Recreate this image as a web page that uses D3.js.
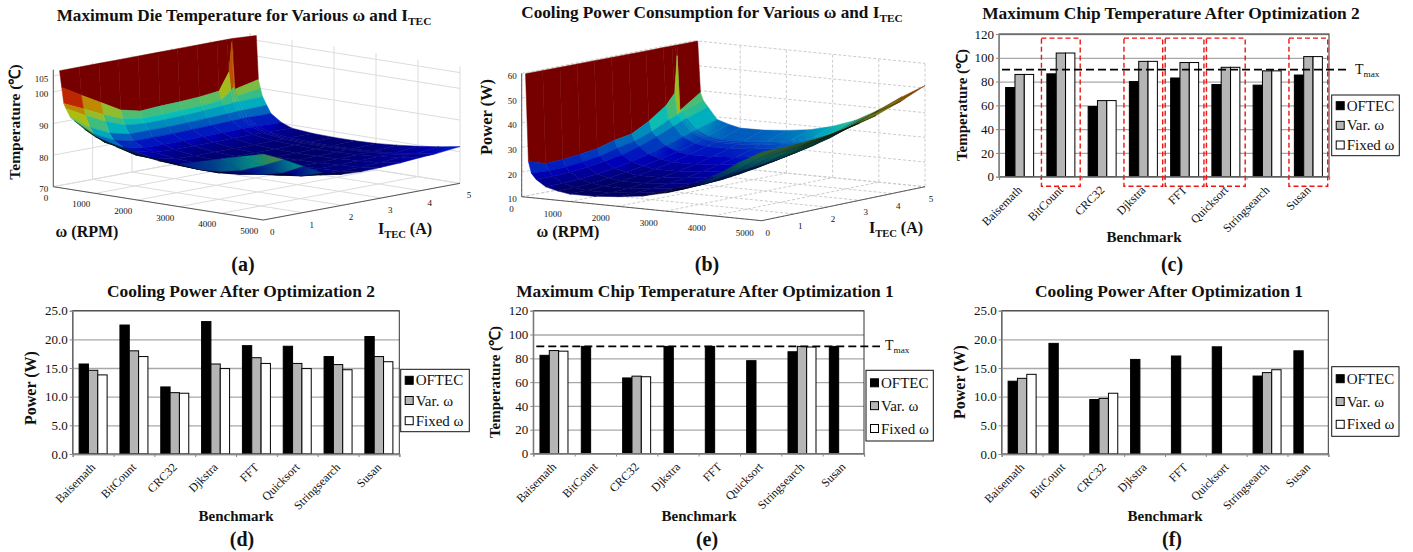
<!DOCTYPE html>
<html>
<head>
<meta charset="utf-8">
<script src="https://cdn.jsdelivr.net/npm/d3@7"></script>
<style>
  html, body { margin: 0; background: #fff; }
  svg { display: block; }
  text { font-family: "Liberation Serif", "Times New Roman", serif; fill: #111; }
</style>
</head>
<body>
<svg id="fig" width="1413" height="552"></svg>
<script>
const benchmarks = ["Baisemath", "BitCount", "CRC32", "Djkstra", "FFT", "Quicksort", "Stringsearch", "Susan"];
const seriesNames = ["OFTEC", "Var. ω", "Fixed ω"];
const seriesFills = ["#000000", "#b5b5b5", "#ffffff"];

const tempOpt2 = [
  [75, 86.5, 59, 80, 83, 77.5, 77, 85.5],
  [86, 104, 64, 97, 96, 92, 89, 101],
  [86, 104, 64, 97, 96, 92, 89, 101],
];
const powerOpt2 = [
  [15.7, 22.5, 11.7, 23.1, 18.9, 18.8, 17, 20.5],
  [14.6, 18, 10.7, 15.7, 16.8, 15.8, 15.6, 17],
  [13.8, 17, 10.6, 14.9, 15.8, 14.9, 14.7, 16.1],
];
const tempOpt1 = [
  [82.5, 90, 63.5, 90, 90, 78, 85.5, 90],
  [86.5, null, 65, null, null, null, 90, null],
  [86, null, 64.5, null, null, null, 89.5, null],
];
const powerOpt1 = [
  [12.7, 19.3, 9.5, 16.5, 17.1, 18.7, 13.6, 18],
  [13.2, null, 9.7, null, null, null, 14.2, null],
  [13.9, null, 10.6, null, null, null, 14.7, null],
];
const flaggedBenchmarks = ["BitCount", "Djkstra", "FFT", "Quicksort", "Susan"];
const T_MAX = 90;
const tempTicks = [0, 20, 40, 60, 80, 100, 120];
const powerTicks = [0, 5, 10, 15, 20, 25];

// surface samples
const currentSteps = [0, 0.5, 1, 1.5, 2, 2.5, 3, 3.5, 4, 4.25, 4.32, 4.4, 5];
const tempOmega = [150, 200, 250, 300, 400, 500, 750, 1000, 1500, 2000, 2500, 3000, 3500, 4000, 4500, 5000];
const tempSurface = [
  [107, 107, 107, 107, 107, 107, 107, 107, 107, 107, 107, 107, 106.5],
  [101.8, 98.2, 94.7, 91.2, 89.7, 90.1, 90.3, 90.7, 91.4, 96.8, 106, 91, 92.7],
  [96.8, 94, 91, 88.5, 87.5, 87.5, 87.8, 88, 88.6, 91, 92, 89, 90],
  [95.4, 92, 89, 86.6, 86, 86, 86.2, 86.5, 87, 87.3, 87.3, 87.3, 87.5],
  [92.9, 88.5, 85.5, 84, 84, 84, 84.2, 84.4, 84.6, 84.8, 84.8, 84.8, 85],
  [91.9, 86.5, 83.5, 82, 82, 82, 82.2, 82.4, 82.6, 82.7, 82.7, 82.7, 82.6],
  [89.7, 84.5, 81.5, 80.5, 80.3, 80.3, 80.4, 80.5, 80.6, 80.6, 80.6, 80.6, 80.3],
  [87.9, 84, 81, 79.5, 79.2, 79.2, 79.2, 79.3, 79.3, 79.3, 79.3, 79.3, 79],
  [85.8, 82, 79.6, 78.6, 78.3, 78.3, 78.3, 78.3, 78.4, 78.4, 78.4, 78.4, 78.4],
  [84.4, 81.8, 79, 78.2, 78, 78, 78, 78, 78.1, 78.1, 78.1, 78.1, 78.2],
  [83.5, 81, 78.5, 77.8, 77.8, 77.8, 77.8, 77.8, 77.9, 78, 78, 78, 78.2],
  [83.5, 80.6, 78.4, 77.8, 77.8, 77.8, 77.8, 77.9, 78, 78.1, 78.1, 78.1, 78.4],
  [85.3, 81, 79, 78, 78, 78, 78, 78.1, 78.2, 78.4, 78.4, 78.4, 78.9],
  [87.2, 82.5, 80, 78.6, 78.3, 78.4, 78.4, 78.5, 78.7, 78.9, 78.9, 78.9, 79.6],
  [89, 85, 81.5, 79.4, 78.6, 78.6, 78.7, 79, 79.4, 79.6, 79.6, 79.7, 80.5],
  [90.8, 88, 84.7, 81.5, 79.8, 79.5, 79.7, 80, 80.5, 80.7, 80.7, 80.8, 81.6],
];
const powerOmega = [80, 140, 200, 300, 500, 750, 1000, 1500, 2000, 2500, 3000, 3500, 4000, 4500, 5000];
const powerSurface = [
  [60, 60, 60, 60, 60, 60, 60, 60, 60, 60, 60, 60, 60],
  [24.5, 22.4, 22.7, 23.5, 24.5, 26.5, 27.8, 31.6, 36.6, 41, 56, 33.5, 39.3],
  [19.9, 19.6, 19.8, 20.6, 21.6, 23.5, 25, 27.5, 31, 32.3, 33, 33.4, 36.2],
  [17.6, 17.5, 17.8, 18.6, 19.6, 21, 23, 25.6, 28.5, 30, 30.4, 30.8, 33.8],
  [15, 15.1, 15.5, 16.2, 17.2, 18.6, 20.3, 22.3, 24.6, 25.8, 26.2, 26.6, 29],
  [13.8, 13.9, 14.2, 15, 16, 17.2, 18.7, 20.4, 22.5, 23.6, 23.9, 24.3, 27.5],
  [13, 13.1, 13.5, 14.2, 15.2, 16.4, 17.9, 19.6, 21.6, 22.7, 23, 23.4, 26.4],
  [13.1, 13.2, 13.6, 14.3, 15.3, 16.5, 18, 19.7, 21.7, 22.8, 23.1, 23.5, 26.5],
  [13.9, 14, 14.4, 15.1, 16.1, 17.3, 18.8, 20.5, 22.5, 23.6, 23.9, 24.3, 27.3],
  [15.1, 15.2, 15.6, 16.3, 17.3, 18.5, 20, 21.7, 23.7, 24.8, 25.1, 25.5, 28.5],
  [17.4, 17.5, 17.8, 18.6, 19.6, 20.8, 22.3, 24, 26, 27.1, 27.4, 27.8, 30.8],
  [20.8, 20.8, 21.2, 22, 23, 24.2, 25.6, 27.4, 29.4, 30.4, 30.7, 31.1, 34.2],
  [26, 26, 26.4, 27, 27.8, 28.9, 30.3, 32, 34.3, 35.2, 35.5, 36, 39.3],
  [32.3, 32.3, 32.6, 33, 33.8, 35, 36.3, 38, 40.5, 41.5, 41.8, 42.2, 45.5],
  [37.8, 37.8, 38, 38.4, 39, 40, 41.3, 43, 45.5, 46.6, 47, 47.5, 51],
];
const omegaTicks = [0, 1000, 2000, 3000, 4000, 5000];
const currentTicks = [0, 1, 2, 3, 4, 5];

const svg = d3.select("#fig");
const defs = svg.append("defs");

const jet = d3.scaleLinear()
  .domain([0, 0.125, 0.375, 0.625, 0.875, 1])
  .range(["#000080", "#0000ff", "#00ffff", "#ffff00", "#ff0000", "#800000"])
  .clamp(true);

// label with an optional subscript, parts = [[text, isSub], ...]
function addLabel(parent, parts, x, y, size, bold, anchor, rotate) {
  const t = parent.append("text")
    .attr("text-anchor", anchor || "middle")
    .attr("font-size", size)
    .attr("font-weight", bold ? "bold" : "normal")
    .attr("transform", `translate(${x},${y})` + (rotate ? ` rotate(${rotate})` : ""));
  let wasSub = false;
  parts.forEach(([str, isSub]) => {
    const span = t.append("tspan").text(str);
    if (isSub) span.attr("font-size", size * 0.66).attr("dy", size * 0.22);
    else if (wasSub) span.attr("dy", -size * 0.22);
    wasSub = isSub;
  });
  return t;
}

function drawSurface(cfg) {
  const g = svg.append("g");
  const wScale = d3.scaleLinear([0, 5000], [0, 1]);
  const iScale = d3.scaleLinear([0, 5], [0, 1]);
  const hScale = d3.scaleLinear(cfg.zDomain, [0, cfg.height]);
  const lerp = (a, b, t) => a + (b - a) * t;

  function project(omega, current, z) {
    const w = wScale(omega);
    const i = iScale(current);
    const x = lerp(lerp(cfg.A[0], cfg.B[0], w), lerp(cfg.D[0], cfg.C[0], w), i);
    const y = lerp(lerp(cfg.A[1], cfg.B[1], w), lerp(cfg.D[1], cfg.C[1], w), i);
    return [x, y - hScale(z)];
  }

  const [zLow, zHigh] = cfg.zDomain;
  const grid = g.append("g")
    .attr("stroke", cfg.gridColor)
    .attr("stroke-width", 1)
    .attr("stroke-dasharray", cfg.gridDash)
    .attr("fill", "none");
  const addLine = (p, q) => grid.append("line")
    .attr("x1", p[0]).attr("y1", p[1]).attr("x2", q[0]).attr("y2", q[1]);

  omegaTicks.forEach((o) => {
    addLine(project(o, 0, zLow), project(o, 5, zLow));
    addLine(project(o, 5, zLow), project(o, 5, zHigh));
  });
  currentTicks.forEach((c) => {
    addLine(project(0, c, zLow), project(5000, c, zLow));
    addLine(project(0, c, zLow), project(0, c, zHigh));
  });
  cfg.zTicks.forEach((z) => {
    addLine(project(0, 0, z), project(0, 5, z));
    addLine(project(0, 5, z), project(5000, 5, z));
  });

  const colorOf = d3.scaleLinear(cfg.colorDomain, [0, 1]);
  const floorSigned = d3.polygonArea([cfg.A, cfg.B, cfg.C, cfg.D]);
  const floorArea = Math.abs(floorSigned);
  const rows = cfg.omega;
  const surface = g.append("g");

  // far to near, so nearer cells paint over farther ones
  rows.slice(0, -1).forEach((omega, r) => {
    for (let j = currentSteps.length - 2; j >= 0; j--) {
      const a = project(rows[r], currentSteps[j], cfg.z[r][j]);
      const b = project(rows[r], currentSteps[j + 1], cfg.z[r][j + 1]);
      const c = project(rows[r + 1], currentSteps[j + 1], cfg.z[r + 1][j + 1]);
      const d = project(rows[r + 1], currentSteps[j], cfg.z[r + 1][j]);
      const quad = [a, b, c, d];
      const signed = d3.polygonArea(quad);
      const cellSize = wScale(rows[r + 1] - rows[r]) * iScale(currentSteps[j + 1] - currentSteps[j]);
      // dense mesh lines in foreshortened cells read as dark
      const density = Math.abs(signed) / cellSize / floorArea;
      let shade = r === 0 ? 0.92 : Math.min(cfg.maxShade, 0.06 + 0.85 * density);
      // sign of the area tells which cells show their underside
      if (signed * floorSigned > 0) shade *= cfg.undersideShade;
      const tone = (z) => d3.interpolateRgb("#000", jet(colorOf(z)))(shade);
      const near = (cfg.z[r][j] + cfg.z[r][j + 1]) / 2;
      const next = (cfg.z[r + 1][j] + cfg.z[r + 1][j + 1]) / 2;
      let fill;
      if (r === 0) fill = tone(near);
      else if (rows[r] < cfg.flatBelow) fill = tone((near + next) / 2);
      else {
        const id = `${cfg.id}-${r}-${j}`;
        const grad = defs.append("linearGradient")
          .attr("id", id)
          .attr("gradientUnits", "userSpaceOnUse")
          .attr("x1", (a[0] + b[0]) / 2).attr("y1", (a[1] + b[1]) / 2)
          .attr("x2", (c[0] + d[0]) / 2).attr("y2", (c[1] + d[1]) / 2);
        grad.append("stop").attr("offset", 0).attr("stop-color", tone(near));
        grad.append("stop").attr("offset", 1).attr("stop-color", tone(next));
        fill = `url(#${id})`;
      }
      surface.append("path")
        .attr("d", d3.line()(quad) + "Z")
        .attr("fill", fill)
        .attr("stroke", fill)
        .attr("stroke-width", 0.5);
    }
  });

  const axisLine = g.append("g").attr("stroke", "#333").attr("stroke-width", 0.8).attr("fill", "none");
  [[project(0, 0, zLow), project(5000, 0, zLow)],
   [project(5000, 0, zLow), project(5000, 5, zLow)],
   [project(0, 0, zLow), project(0, 0, zHigh)]].forEach(([p, q]) => {
    axisLine.append("line").attr("x1", p[0]).attr("y1", p[1]).attr("x2", q[0]).attr("y2", q[1]);
  });

  const labels = g.append("g").attr("font-size", 9);
  omegaTicks.forEach((o) => {
    const p = project(o, 0, zLow);
    addLabel(labels, [[String(o)]], p[0] + cfg.omegaOffset[0], p[1] + cfg.omegaOffset[1], 9, false, "end");
  });
  currentTicks.forEach((c) => {
    const p = project(5000, c, zLow);
    addLabel(labels, [[String(c)]], p[0] + cfg.currentOffset[0], p[1] + cfg.currentOffset[1], 9, false, "middle");
  });
  cfg.zTicks.forEach((z) => {
    const p = project(0, 0, z);
    addLabel(labels, [[String(z)]], p[0] - 5, p[1] + 5.5, 9, false, "end");
  });
}

function drawBars(p) {
  const g = svg.append("g");
  const x = d3.scaleBand(benchmarks, [p.left, p.right]);
  const tickX = d3.scaleLinear([0, benchmarks.length], [p.left, p.right]);
  const y = d3.scaleLinear([0, p.yMax], [p.bottom, p.top]);
  const groupW = 28;
  const barX = d3.scaleBand(seriesNames, [(x.bandwidth() - groupW) / 2, (x.bandwidth() + groupW) / 2]);
  const fmt = p.yFormat;

  const gridAxis = g.append("g")
    .attr("transform", `translate(${p.left},0)`)
    .call(d3.axisLeft(y).tickValues(p.ticks).tickSize(-(p.right - p.left)).tickFormat(""));
  gridAxis.select(".domain").remove();
  gridAxis.selectAll("line").attr("stroke", "#a8a8a8").attr("stroke-width", 1.3);

  const cells = p.values.flatMap((vals, s) =>
    vals.map((v, b) => ({ v, s, b })).filter((d) => d.v !== null));
  g.append("g").selectAll("rect")
    .data(cells)
    .join("rect")
    .attr("x", (d) => x(benchmarks[d.b]) + barX(seriesNames[d.s]))
    .attr("width", barX.bandwidth())
    .attr("y", (d) => y(d.v))
    .attr("height", (d) => y(0) - y(d.v))
    .attr("fill", (d) => seriesFills[d.s])
    .attr("stroke", "#000")
    .attr("stroke-width", 1);

  g.append("rect")
    .attr("x", p.left).attr("y", p.top)
    .attr("width", p.right - p.left).attr("height", p.bottom - p.top)
    .attr("fill", "none").attr("stroke", "#333").attr("stroke-width", 1);

  const yAxis = g.append("g")
    .attr("transform", `translate(${p.left},0)`)
    .call(d3.axisLeft(y).tickValues(p.ticks).tickSize(3).tickPadding(2).tickFormat(fmt));
  yAxis.select(".domain").attr("stroke", "#888");
  yAxis.selectAll("line").attr("stroke", "#888");
  yAxis.selectAll("text").attr("font-size", 13).attr("font-family", "Liberation Serif").attr("fill", "#222");

  const tickAxis = g.append("g")
    .attr("transform", `translate(0,${p.bottom})`)
    .call(d3.axisBottom(tickX).ticks(benchmarks.length).tickSize(3).tickFormat(""));
  tickAxis.select(".domain").attr("stroke", "#888").attr("stroke-width", 1.3);
  tickAxis.selectAll("line").attr("stroke", "#888");

  const labelAxis = g.append("g")
    .attr("transform", `translate(0,${p.bottom})`)
    .call(d3.axisBottom(x).tickSize(0).tickPadding(0));
  labelAxis.select(".domain").remove();
  labelAxis.selectAll("text")
    .attr("font-size", 12)
    .attr("font-family", "Liberation Serif")
    .attr("fill", "#222")
    .attr("text-anchor", "end")
    .attr("dy", 0)
    .attr("transform", "translate(3,14) rotate(-45)");

  if (p.flagged) {
    g.append("g").selectAll("rect")
      .data(p.flagged)
      .join("rect")
      .attr("x", (d) => x(d) + 1.2)
      .attr("width", x.bandwidth() - 2.5)
      .attr("y", y(116.5))
      .attr("height", y(0) - y(116.5) + 9.5)
      .attr("fill", "none")
      .attr("stroke", "#f01414")
      .attr("stroke-width", 1.4)
      .attr("stroke-dasharray", "5 3");
  }

  if (p.tmaxEnd) {
    g.append("line")
      .attr("x1", p.left + 3).attr("x2", p.tmaxEnd)
      .attr("y1", y(T_MAX)).attr("y2", y(T_MAX))
      .attr("stroke", "#000").attr("stroke-width", 1.8).attr("stroke-dasharray", "8 4");
    addLabel(g, [["T"], ["max", true]], p.tmaxEnd + 5, y(T_MAX) + 4, 14, false, "start");
  }

  const legend = g.append("g");
  legend.append("rect")
    .attr("x", p.legend.x).attr("y", p.legend.y)
    .attr("width", p.legend.w).attr("height", p.legend.h)
    .attr("fill", "#fff").attr("stroke", "#111").attr("stroke-width", 1);
  const rowY = d3.scalePoint(seriesNames, [p.legend.y + p.legend.pad, p.legend.y + p.legend.h - p.legend.pad]);
  seriesNames.forEach((name, s) => {
    legend.append("rect")
      .attr("x", p.legend.x + 4.5).attr("y", rowY(name) - 4)
      .attr("width", 8).attr("height", 8)
      .attr("fill", seriesFills[s]).attr("stroke", "#000").attr("stroke-width", 1);
    addLabel(legend, [[name]], p.legend.x + 15, rowY(name) + 5, 15, false, "start");
  });

  addLabel(g, [[p.title]], p.titleX, 297 - (p.row ? 0 : 278), 17.4, true);
  addLabel(g, [[p.yTitle]], p.yTitleX, p.yTitleY, p.yTitleSize, true, "middle", -90);
  addLabel(g, [["Benchmark"]], p.benchX, p.row ? 521 : 242, 15, true);
  addLabel(g, [[p.tag]], p.tagX, p.row ? 546 : 271, 20, true);
}

drawSurface({
  id: "temp",
  omega: tempOmega,
  z: tempSurface,
  A: [53.3, 186.7], B: [263.3, 220], C: [460, 183.3], D: [250, 150],
  zDomain: [70, 107],
  height: 117,
  zTicks: [70, 80, 90, 100, 105],
  colorDomain: [77.5, 102],
  gridColor: "#dcdcdc",
  gridDash: null,
  flatBelow: 750,
  maxShade: 0.74,
  undersideShade: 0.72,
  omegaOffset: [-5, 14],
  currentOffset: [9, 15],
});
addLabel(svg, [["Maximum Die Temperature for Various ω and I"], ["TEC", true]], 244, 21, 17.2, true);
addLabel(svg, [["Temperature (℃)"]], 20, 122, 15.5, true, "middle", -90);
addLabel(svg, [["ω (RPM)"]], 87, 237, 16, true);
addLabel(svg, [["I"], ["TEC", true], [" (A)"]], 405, 234, 16, true);
addLabel(svg, [["(a)"]], 243, 271, 20, true);

drawSurface({
  id: "power",
  omega: powerOmega,
  z: powerSurface,
  A: [521.7, 196.7], B: [761.7, 220.7], C: [925, 186.7], D: [694, 164],
  zDomain: [10, 60],
  height: 123.3,
  zTicks: [10, 20, 30, 40, 50, 60],
  colorDomain: [13.5, 60],
  gridColor: "#cccccc",
  gridDash: "3 2",
  flatBelow: 500,
  maxShade: 0.74,
  undersideShade: 0.5,
  omegaOffset: [-8, 15],
  currentOffset: [6, 15],
});
addLabel(svg, [["Cooling Power Consumption for Various ω and I"], ["TEC", true]], 712, 18, 17.2, true);
addLabel(svg, [["Power (W)"]], 492, 117, 16.5, true, "middle", -90);
addLabel(svg, [["ω (RPM)"]], 568, 237, 16, true);
addLabel(svg, [["I"], ["TEC", true], [" (A)"]], 896, 233, 16, true);
addLabel(svg, [["(b)"]], 707, 271, 20, true);

const oneDecimal = d3.format(".1f");
drawBars({
  title: "Maximum Chip Temperature After Optimization 2", tag: "(c)", row: 0,
  yTitle: "Temperature (℃)", yTitleSize: 15,
  values: tempOpt2, ticks: tempTicks, yMax: 120, yFormat: d3.format("d"),
  left: 999, right: 1329, top: 34, bottom: 176.7,
  flagged: flaggedBenchmarks, tmaxEnd: 1350,
  legend: { x: 1331.7, y: 95, w: 67.6, h: 60.7, pad: 10.7 },
  titleX: 1171, yTitleX: 967, yTitleY: 105, benchX: 1144, tagX: 1172,
});
drawBars({
  title: "Cooling Power After Optimization 2", tag: "(d)", row: 1,
  yTitle: "Power (W)", yTitleSize: 16,
  values: powerOpt2, ticks: powerTicks, yMax: 25, yFormat: oneDecimal,
  left: 72.7, right: 399.3, top: 310.7, bottom: 454,
  legend: { x: 400.7, y: 369.3, w: 68.6, h: 62.4, pad: 11 },
  titleX: 241, yTitleX: 36, yTitleY: 388, benchX: 236, tagX: 242,
});
drawBars({
  title: "Maximum Chip Temperature After Optimization 1", tag: "(e)", row: 1,
  yTitle: "Temperature (℃)", yTitleSize: 15,
  values: tempOpt1, ticks: tempTicks, yMax: 120, yFormat: d3.format("d"),
  left: 533.3, right: 864, top: 310.7, bottom: 453.5,
  tmaxEnd: 880,
  legend: { x: 866, y: 370.3, w: 67.3, h: 70.7, pad: 12.5 },
  titleX: 705, yTitleX: 500, yTitleY: 382, benchX: 699, tagX: 707,
});
drawBars({
  title: "Cooling Power After Optimization 1", tag: "(f)", row: 1,
  yTitle: "Power (W)", yTitleSize: 16,
  values: powerOpt1, ticks: powerTicks, yMax: 25, yFormat: oneDecimal,
  left: 1001.7, right: 1328.3, top: 310.7, bottom: 454,
  legend: { x: 1331.7, y: 366.7, w: 67.3, h: 69.6, pad: 12 },
  titleX: 1169, yTitleX: 965, yTitleY: 382, benchX: 1165, tagX: 1172,
});
</script>
</body>
</html>
